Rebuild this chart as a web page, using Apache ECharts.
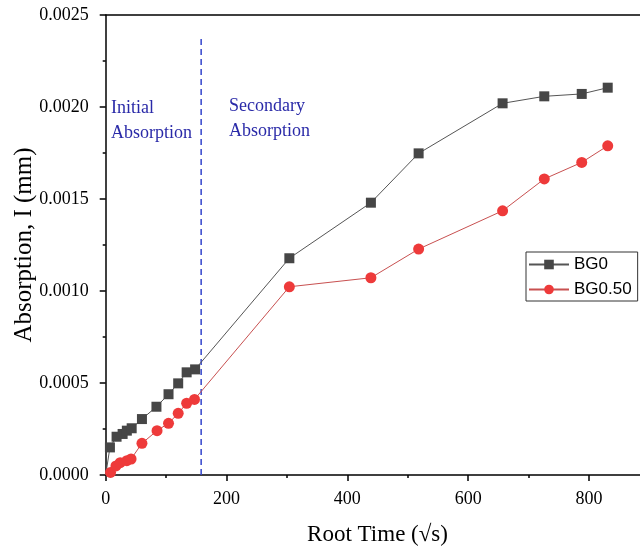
<!DOCTYPE html>
<html><head><meta charset="utf-8">
<script src="https://cdn.jsdelivr.net/npm/echarts@6/dist/echarts.min.js"></script>
<style>html,body{margin:0;padding:0;background:#fff}#c{width:640px;height:554px}</style>
</head><body><div id="c"></div>
<script>
const seriesNames = ['BG0', 'BG0.50'];
const rootTimeBG0 = [0, 7, 18, 28, 35, 43, 60, 84, 104, 120, 134, 148, 304, 439, 518, 657, 726, 788, 831];
const absorptionBG0 = [0, 0.000150, 0.000208, 0.000223, 0.000241, 0.000254, 0.000304, 0.000371, 0.000439, 0.000498, 0.000558, 0.000574, 0.001178, 0.001480, 0.001748, 0.002020, 0.002058, 0.002071, 0.002105];
const rootTimeBG050 = [8, 17, 24, 35, 42, 60, 85, 104, 120, 134, 147, 304, 439, 518, 657, 726, 788, 831];
const absorptionBG050 = [0.000014, 0.000049, 0.000067, 0.000078, 0.000087, 0.000172, 0.000241, 0.000281, 0.000335, 0.000390, 0.000411, 0.001023, 0.001072, 0.001228, 0.001436, 0.001609, 0.001699, 0.001789];
const dividerX = [158, 158];
const dividerY = [0, 0.00237];
const xTicks = [0, 200, 400, 600, 800];
const yTicks = [0, 0.0005, 0.0010, 0.0015, 0.0020, 0.0025];
const annotations = ['Initial\nAbsorption', 'Secondary\nAbsorption'];

const serif = '"Liberation Serif", "Times New Roman", serif';
const chart = echarts.init(document.getElementById('c'), null, {renderer: 'canvas'});

const bg0Data = rootTimeBG0.map((x, i) => i === 0 ? {value: [x, absorptionBG0[i]], symbol: 'none'} : [x, absorptionBG0[i]]);
const bg050Data = rootTimeBG050.map((x, i) => [x, absorptionBG050[i]]);

chart.setOption({
  animation: false,
  backgroundColor: '#fff',
  grid: {left: 105.7, top: 15, bottom: 79, right: -9.4, containLabel: false, outerBoundsMode: 'none'},
  xAxis: [{
    type: 'value', min: xTicks[0], max: 900, interval: xTicks[1] - xTicks[0],
    name: 'Root Time (√s)', nameLocation: 'middle', nameGap: 48,
    nameTextStyle: {fontFamily: serif, fontSize: 23, color: '#000'},
    axisLine: {show: true, onZero: false, lineStyle: {color: '#000', width: 1.5}},
    axisTick: {show: true, inside: false, length: 6, lineStyle: {color: '#000', width: 1.5}},
    minorTick: {show: true, splitNumber: 2, length: 3, lineStyle: {color: '#000', width: 1.5}},
    axisLabel: {fontFamily: serif, fontSize: 18, color: '#000', margin: 15, showMaxLabel: false},
    splitLine: {show: false}
  }, {
    type: 'value', position: 'top', min: xTicks[0], max: 900,
    axisLine: {show: true, onZero: false, lineStyle: {color: '#000', width: 1.5}},
    axisTick: {show: false}, axisLabel: {show: false}, splitLine: {show: false}
  }],
  yAxis: [{
    type: 'value', min: yTicks[0], max: yTicks[yTicks.length - 1], interval: yTicks[1] - yTicks[0],
    name: 'Absorption, I (mm)', nameLocation: 'middle', nameGap: 69, nameMoveOverlap: false,
    nameTextStyle: {fontFamily: serif, fontSize: 25, color: '#000'},
    axisLine: {show: true, onZero: false, lineStyle: {color: '#000', width: 1.5}},
    axisTick: {show: true, inside: false, length: 6, lineStyle: {color: '#000', width: 1.5}},
    minorTick: {show: true, splitNumber: 2, length: 3, lineStyle: {color: '#000', width: 1.5}},
    axisLabel: {fontFamily: serif, fontSize: 18, color: '#000', margin: 17, formatter: v => v.toFixed(4)},
    splitLine: {show: false}
  }],
  legend: {
    data: seriesNames,
    left: 526, top: 252, orient: 'vertical',
    itemWidth: 40, itemHeight: 12, itemGap: 8,
    padding: [4, 6, 3, 2],
    borderColor: '#333', borderWidth: 1, backgroundColor: '#fff',
    textStyle: {fontFamily: '"Liberation Sans", Arial, sans-serif', fontSize: 17, color: '#000'}
  },
  series: [{
    name: 'divider', type: 'line', data: dividerX.map((x, i) => [x, dividerY[i]]),
    symbol: 'none', silent: true,
    lineStyle: {color: '#3344cc', width: 1.5, type: [6, 4]}, z: 1
  }, {
    name: seriesNames[0], type: 'line', data: bg0Data,
    symbol: 'rect', symbolSize: 10,
    itemStyle: {color: '#464646'},
    lineStyle: {color: '#555', width: 1}, z: 3
  }, {
    name: seriesNames[1], type: 'line', data: bg050Data,
    symbol: 'circle', symbolSize: 11,
    itemStyle: {color: '#ee3a3a'},
    lineStyle: {color: '#c85050', width: 1}, z: 4
  }],
  graphic: [{
    type: 'text', left: 111, top: 96,
    style: {text: annotations[0], fontFamily: serif, fontSize: 18, lineHeight: 25, fill: '#2a2aa8'}
  }, {
    type: 'text', left: 229, top: 94,
    style: {text: annotations[1], fontFamily: serif, fontSize: 18, lineHeight: 25, fill: '#2a2aa8'}
  }]
});
</script></body></html>
